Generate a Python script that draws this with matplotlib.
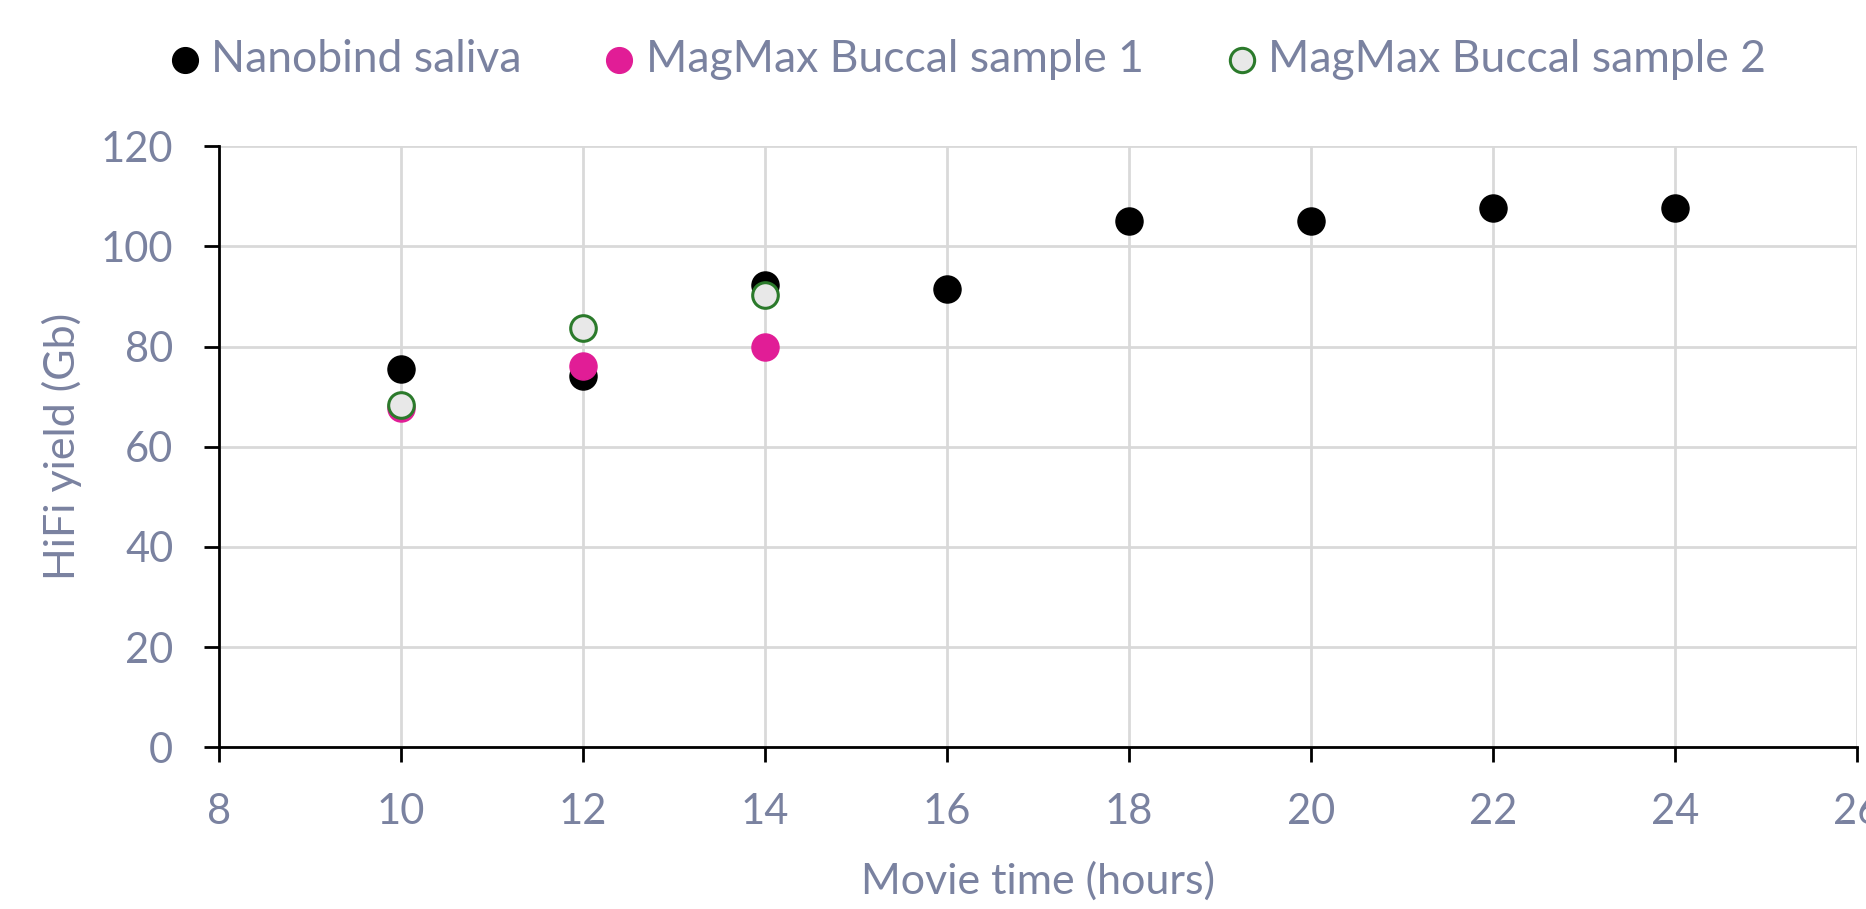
import matplotlib
matplotlib.use('Agg')
import matplotlib.pyplot as plt

# data
nanobind_hours = [10, 12, 14, 16, 18, 20, 22, 24]
nanobind_yield = [75.6, 74.1, 92.3, 91.5, 105.0, 105.0, 107.6, 107.6]

magmax1_hours = [10, 12, 14]
magmax1_yield = [67.7, 76.2, 79.9]

magmax2_hours = [10, 12, 14]
magmax2_yield = [68.3, 83.7, 90.3]

x_ticks = [8, 10, 12, 14, 16, 18, 20, 22, 24, 26]
y_ticks = [0, 20, 40, 60, 80, 100, 120]

text_color = '#7a82a0'
font = ['Lato', 'DejaVu Sans']
plt.rcParams['font.family'] = font

fig = plt.figure(figsize=(18.66, 9.09), dpi=100)
ax = fig.add_axes([0.1174, 0.178, 0.8776, 0.661])

ax.scatter(nanobind_hours, nanobind_yield, s=380, color='black', label='Nanobind saliva', zorder=3)
ax.scatter(magmax1_hours, magmax1_yield, s=380, color='#e11d96', label='MagMax Buccal sample 1', zorder=4)
ax.scatter(magmax2_hours, magmax2_yield, s=340, facecolor='#e8e8e8', edgecolor='#2b7a2b',
           linewidth=2.2, label='MagMax Buccal sample 2', zorder=5)

ax.set_xlim(8, 26)
ax.set_ylim(0, 120)
ax.set_xticks(x_ticks)
ax.set_yticks(y_ticks)
ax.grid(True, color='#d9d9d9', linewidth=2)
ax.set_axisbelow(True)

for side in ['top', 'right']:
    ax.spines[side].set_visible(False)
for side in ['left', 'bottom']:
    ax.spines[side].set_linewidth(2)
    ax.spines[side].set_color('black')

ax.tick_params(axis='both', direction='out', length=11, width=2, color='black',
               labelsize=30, labelcolor=text_color)
ax.tick_params(axis='y', pad=22)
ax.tick_params(axis='x', pad=22)

ax.set_xlabel('Movie time (hours)', fontsize=31, color=text_color, va='center')
ax.set_ylabel('HiFi yield (Gb)', fontsize=31, color=text_color, va='center')
ax.xaxis.set_label_coords(0.5, -0.223)
ax.yaxis.set_label_coords(-0.096, 0.5)

fig.legend(loc='center', bbox_to_anchor=(0.518, 0.935), ncol=3, frameon=False,
           prop={'size': 32}, labelcolor=text_color,
           handlelength=0.8, handletextpad=0.2, columnspacing=1.8, markerscale=0.95)

fig.savefig('out.png', dpi=100)
